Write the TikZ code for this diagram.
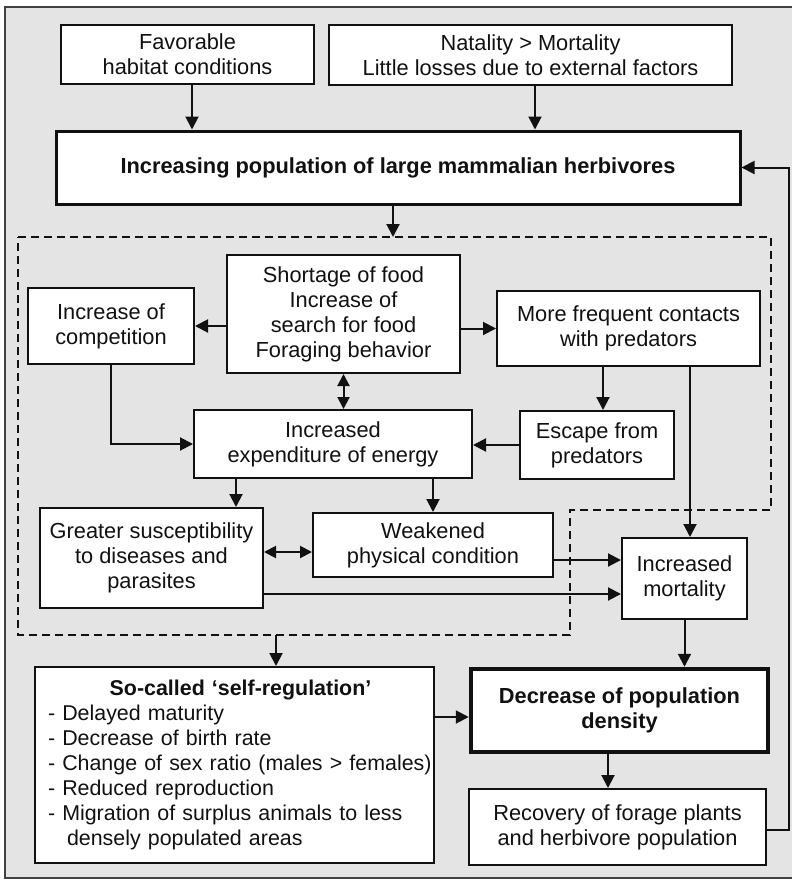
\documentclass[tikz,border=0pt]{standalone}
\usepackage{fontspec}
\setmainfont{Liberation Sans}
\usetikzlibrary{arrows.meta,calc}

\definecolor{panel}{HTML}{E4E4E4}
\definecolor{ink}{HTML}{111111}

\begin{document}
\begin{tikzpicture}[x=1pt,y=-1pt,
  every node/.style={font=\fontsize{21.8}{25}\selectfont, text=ink},
  box/.style={draw=ink,fill=white,line width=2pt,align=center,inner sep=0pt},
  arr/.style={draw=ink,line width=2pt,-{Triangle[length=13pt,width=13pt]}},
  dbl/.style={draw=ink,line width=2pt,{Triangle[length=12pt,width=12pt]}-{Triangle[length=12pt,width=12pt]}},
  dashline/.style={draw=ink,line width=2pt,dash pattern=on 8pt off 5pt}]

% page and outer panel
\clip (0,0) rectangle (792,879);
\fill[white] (0,0) rectangle (792,879);
\draw[draw=ink!80,line width=2pt,fill=panel] (5,7) rectangle (800,878);

% top row
\node[box,minimum width=253pt,minimum height=59pt] (fav) at (187.5,54.5)
  {Favorable\\habitat conditions};
\node[box,minimum width=403pt,minimum height=60pt] (nat) at (530.5,55)
  {Natality > Mortality\\Little losses due to external factors};
\node[box,line width=3pt,minimum width=684pt,minimum height=73pt] (main) at (398,167.5)
  {\bfseries Increasing population of large mammalian herbivores};

% dashed region of density effects
\coordinate (dtop) at (393,237);
\coordinate (dbot) at (276,635);
\draw[dashline] (18,237) -- (771,237) -- (771,510) -- (570,510) -- (570,635) -- (18,635) -- cycle;

% inner boxes
\node[box,minimum width=233pt,minimum height=118pt] (short) at (343.5,314)
  {Shortage of food\\Increase of\\search for food\\Foraging behavior};
\node[box,minimum width=166pt,minimum height=76pt] (comp) at (111,326)
  {Increase of\\competition};
\node[box,minimum width=263pt,minimum height=75pt] (contact) at (628.5,328.5)
  {More frequent contacts\\with predators};
\node[box,minimum width=278pt,minimum height=68pt] (energy) at (333,444)
  {Increased\\expenditure of energy};
\node[box,minimum width=154pt,minimum height=68pt] (escape) at (597,445)
  {Escape from\\predators};
\node[box,minimum width=223pt,minimum height=100pt] (suscept) at (151.5,558)
  {Greater susceptibility\\to diseases and\\parasites};
\node[box,minimum width=240pt,minimum height=64pt] (weak) at (433,545)
  {Weakened\\physical condition};
\node[box,minimum width=125pt,minimum height=81pt] (mort) at (684.5,578.5)
  {Increased\\mortality};

% bottom boxes
\node[box,minimum width=399pt,minimum height=196pt,text width=373pt,align=left,
      font=\fontsize{21.4}{25}\selectfont] (selfreg) at (234.5,765)
  {\makebox[\linewidth][c]{\hspace*{12pt}\bfseries So-called ‘self-regulation’}\\
   \mbox{- Delayed maturity}\\
   \mbox{- Decrease of birth rate}\\
   \mbox{- Change of sex ratio (males > females)}\\
   \mbox{- Reduced reproduction}\\
   \mbox{- Migration of surplus animals to less}\\
   \mbox{\hspace*{19pt}densely populated areas}};
\node[box,line width=4.5pt,minimum width=297pt,minimum height=83pt] (decr) at (619.5,710.5)
  {\bfseries Decrease of population\\\bfseries density};
\node[box,minimum width=297pt,minimum height=76pt] (recov) at (617.5,827)
  {Recovery of forage plants\\and herbivore population};
\coordinate (fb) at (789,167.5);

% connectors
\draw[arr] ([xshift=4.5pt]fav.south) -- ([xshift=4.5pt]fav.south |- main.north);
\draw[arr] ([xshift=4.5pt]nat.south) -- ([xshift=4.5pt]nat.south |- main.north);
\draw[arr] (main.south -| dtop) -- (dtop);
\draw[arr] (comp.east -| short.west) -- (comp.east);
\draw[arr] (contact.west -| short.east) -- (contact.west);
\draw[dbl] (short.south) -- (short.south |- energy.north);
\draw[arr] (comp.south) |- (energy.west);
\draw[arr] ([xshift=6pt]escape.north |- contact.south) -- ([xshift=6pt]escape.north);
\draw[arr] (escape.west) -- (escape.west -| energy.east);
\draw[arr] ([xshift=5.5pt]mort.north |- contact.south) -- ([xshift=5.5pt]mort.north);
\draw[arr] ([xshift=43pt]energy.south west) -- ([xshift=43pt]energy.south west |- suscept.north);
\draw[arr] (weak.north |- energy.south) -- (weak.north);
\draw[dbl] ([yshift=-7pt]weak.west) -- ([yshift=-7pt]weak.west -| suscept.east);
\draw[arr] ([yshift=-15pt]weak.east) -- ([yshift=-15pt]weak.east -| mort.west);
\draw[arr] ([yshift=-36pt]suscept.east) -- ([yshift=-36pt]suscept.east -| mort.west);
\draw[arr] (mort.south) -- (mort.south |- decr.north);
\draw[arr] (dbot) -- (dbot |- selfreg.north);
\draw[arr] ([yshift=-6.5pt]decr.west -| selfreg.east) -- ([yshift=-6.5pt]decr.west);
\draw[arr] ([xshift=-11.5pt]decr.south) -- ([xshift=-11.5pt]decr.south |- recov.north);
\draw[arr] ([yshift=-3pt]recov.east) -| (fb) -- (main.east);
\end{tikzpicture}
\end{document}
